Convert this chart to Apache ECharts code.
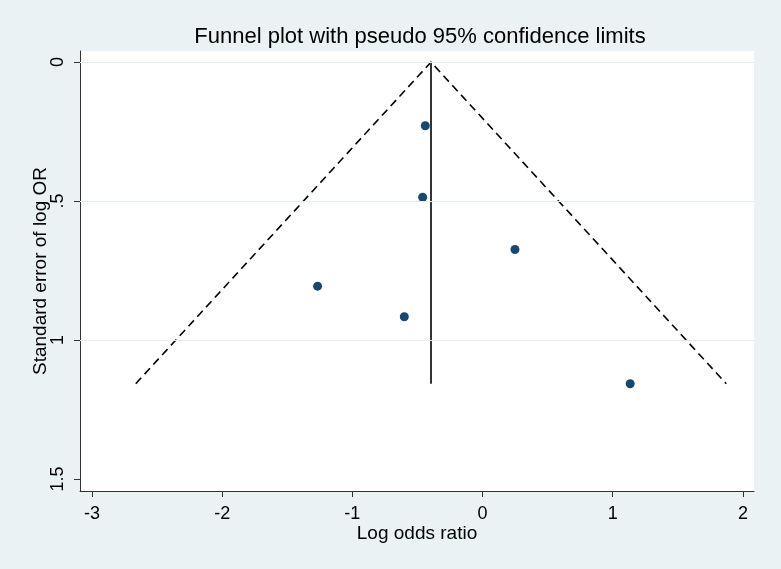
<!DOCTYPE html>
<html>
<head>
<meta charset="utf-8">
<script src="https://cdn.jsdelivr.net/npm/echarts@6/dist/echarts.min.js"></script>
<style>
html,body{margin:0;padding:0;background:#EAF2F3;}
#c{width:781px;height:569px;}
</style>
</head>
<body>
<div id="c"></div>
<script>
const logOR = [-0.440, -0.460, 0.249, -1.267, -0.601, 1.134];
const seLogOR = [0.229, 0.486, 0.674, 0.806, 0.916, 1.157];
const pooled = -0.396;
const seMax = 1.157;
const xTicks = [-3, -2, -1, 0, 1, 2];
const yTicks = [0, 0.5, 1, 1.5];
const yGrid = [0, 0.5, 1];

const points = logOR.map((v, i) => [v, seLogOR[i]]);
const funnel = [[pooled - 1.96 * seMax, seMax], [pooled, 0], [pooled + 1.96 * seMax, seMax]];
const vline = [[pooled, 0], [pooled, seMax]];

const chart = echarts.init(document.getElementById('c'));
const font = 'Liberation Sans, Arial, sans-serif';
chart.setOption({
  backgroundColor: '#EAF2F3',
  animation: false,
  title: {
    text: 'Funnel plot with pseudo 95% confidence limits',
    left: 415, top: 21, textAlign: 'center',
    textStyle: {fontFamily: font, fontSize: 22, fontWeight: 'normal', color: '#000'}
  },
  graphic: [{
    type: 'rect', z: -10, silent: true,
    shape: {x: 80, y: 51, width: 674, height: 440},
    style: {fill: '#fff'}
  }],
  grid: {left: 80, right: 27, top: 51, bottom: 78},
  xAxis: {
    type: 'value', min: -3.092, max: 2.085,
    name: 'Log odds ratio', nameLocation: 'middle', nameGap: 33, nameMoveOverlap: false,
    nameTextStyle: {fontFamily: font, fontSize: 19, color: '#000'},
    axisLine: {show: true, onZero: false, lineStyle: {color: '#333', width: 1}},
    axisTick: {show: true, customValues: xTicks, length: 6, lineStyle: {color: '#333'}},
    axisLabel: {customValues: xTicks, fontFamily: font, fontSize: 18, color: '#000', margin: 14},
    splitLine: {show: false}
  },
  yAxis: {
    type: 'value', min: -0.04, max: 1.543, inverse: true,
    name: 'Standard error of log OR', nameLocation: 'middle', nameGap: 30, nameRotate: 90, nameMoveOverlap: false,
    nameTextStyle: {fontFamily: font, fontSize: 19, color: '#000'},
    axisLine: {show: true, onZero: false, lineStyle: {color: '#333', width: 1}},
    axisTick: {show: true, customValues: yTicks, length: 6, lineStyle: {color: '#333'}},
    axisLabel: {
      customValues: yTicks, rotate: 90, fontFamily: font, fontSize: 18, color: '#000', margin: 13,
      formatter: v => String(v).replace(/^0\./, '.')
    },
    splitLine: {show: false}
  },
  series: [
    {
      type: 'line', data: [], silent: true,
      markLine: {
        silent: true, symbol: 'none', label: {show: false},
        lineStyle: {color: '#E3ECEF', width: 1, type: 'solid'},
        data: yGrid.map(v => ({yAxis: v}))
      }
    },
    {
      type: 'line', data: funnel, symbol: 'none', silent: true,
      lineStyle: {color: '#000', width: 1.6, type: [8, 5]}
    },
    {
      type: 'line', data: vline, symbol: 'none', silent: true,
      lineStyle: {color: '#333', width: 2}
    },
    {
      type: 'scatter', data: points, symbol: 'circle', symbolSize: 9,
      itemStyle: {color: '#1A476F', opacity: 1}
    }
  ]
});
</script>
</body>
</html>
